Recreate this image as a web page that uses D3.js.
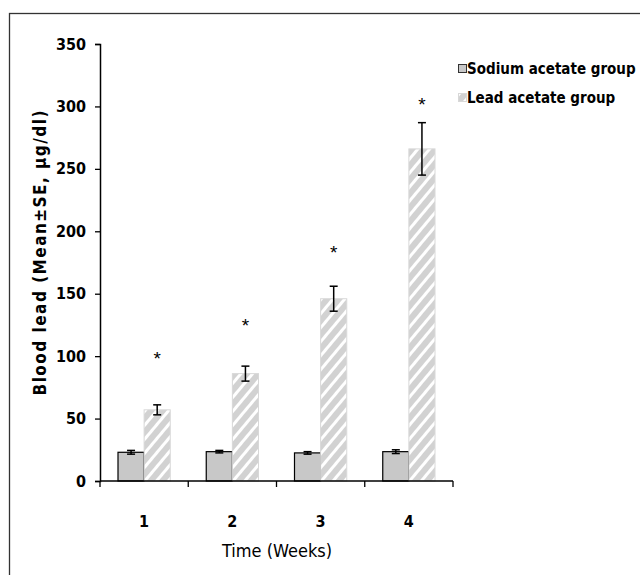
<!DOCTYPE html>
<html>
<head>
<meta charset="utf-8">
<script src="https://cdn.jsdelivr.net/npm/d3@7"></script>
<style>
  body { margin: 0; background: #fff; }
  svg text { font-family: "DejaVu Sans Condensed", "Liberation Sans", Arial, sans-serif; font-stretch: condensed; font-weight: bold; fill: #000; }
</style>
</head>
<body>
<div id="chart"></div>
<script>
// chart values
const weeks = ["1", "2", "3", "4"];
const groups = ["Sodium acetate group", "Lead acetate group"];
const sodiumMean = [23, 23.5, 22.5, 23.5];
const sodiumSE = [1.5, 1, 1, 1.5];
const leadMean = [57, 86, 146, 266];
const leadSE = [4, 6, 10, 21];
const starLevel = [104, 131, 189, 308];
const yTicks = [0, 50, 100, 150, 200, 250, 300, 350];

const width = 640;
const height = 575;

const svg = d3.select("#chart")
    .append("svg")
    .attr("width", width)
    .attr("height", height);

// hatch for the lead bars
const defs = svg.append("defs");
const hatch = defs.append("pattern")
    .attr("id", "hatch")
    .attr("patternUnits", "userSpaceOnUse")
    .attr("width", 9)
    .attr("height", 9)
    .attr("patternTransform", "rotate(40)");
hatch.append("rect")
    .attr("width", 9).attr("height", 9)
    .attr("fill", "#d2d2d2");
hatch.append("rect")
    .attr("x", 0).attr("y", 0)
    .attr("width", 3).attr("height", 9)
    .attr("fill", "#ffffff");

// outer frame (runs off the right and bottom edges)
svg.append("rect")
    .attr("x", 9.5).attr("y", 13.5)
    .attr("width", 700).attr("height", 700)
    .attr("fill", "none")
    .attr("stroke", "#333")
    .attr("stroke-width", 1.3);

const x0 = d3.scaleBand()
    .domain(weeks)
    .range([100, 453]);

const x1 = d3.scaleBand()
    .domain(groups)
    .range([18, x0.bandwidth() - 18]);

const y = d3.scaleLinear()
    .domain([0, 350])
    .range([481, 44]);

// y axis
const yAxis = svg.append("g")
    .attr("transform", "translate(100,0)")
    .call(d3.axisLeft(y).tickValues(yTicks).tickSize(5).tickPadding(9));
yAxis.select(".domain").attr("stroke-width", 1.5);
yAxis.selectAll(".tick line").attr("stroke-width", 1.3);
yAxis.selectAll("text").style("font-size", "16px");

// bars
const grp = svg.append("g").selectAll("g")
    .data(weeks)
    .join("g")
    .attr("transform", d => `translate(${x0(d)},0)`);

grp.append("rect")
    .attr("x", x1(groups[0]))
    .attr("y", (d, i) => y(sodiumMean[i]))
    .attr("width", x1.bandwidth())
    .attr("height", (d, i) => y(0) - y(sodiumMean[i]))
    .attr("fill", "#c8c8c8")
    .attr("stroke", "#000")
    .attr("stroke-width", 1.2);

grp.append("rect")
    .attr("x", x1(groups[1]))
    .attr("y", (d, i) => y(leadMean[i]))
    .attr("width", x1.bandwidth())
    .attr("height", (d, i) => y(0) - y(leadMean[i]))
    .attr("fill", "url(#hatch)")
    .attr("stroke", "#d8d8d8")
    .attr("stroke-width", 1);

// error bars
function errBars(cls, key, mean, se) {
    const cx = x1(key) + x1.bandwidth() / 2;
    const e = grp.append("g").attr("class", cls);
    e.append("line")
        .attr("x1", cx).attr("x2", cx)
        .attr("y1", (d, i) => y(mean[i] + se[i]))
        .attr("y2", (d, i) => y(mean[i] - se[i]))
        .attr("stroke", "#000").attr("stroke-width", 1.5);
    [1, -1].forEach(s => {
        e.append("line")
            .attr("x1", cx - 4).attr("x2", cx + 4)
            .attr("y1", (d, i) => y(mean[i] + s * se[i]))
            .attr("y2", (d, i) => y(mean[i] + s * se[i]))
            .attr("stroke", "#000").attr("stroke-width", 1.5);
    });
}
errBars("err-na", groups[0], sodiumMean, sodiumSE);
errBars("err-pb", groups[1], leadMean, leadSE);

// significance stars
grp.append("text")
    .attr("x", x1(groups[1]) + x1.bandwidth() / 2)
    .attr("y", (d, i) => y(starLevel[i]))
    .attr("text-anchor", "middle")
    .attr("dy", "0.75em")
    .style("font-family", "'Liberation Sans', Arial, sans-serif")
    .style("font-size", "19px")
    .style("font-weight", "normal")
    .text("*");

// x axis
const xAxis = svg.append("g")
    .attr("transform", "translate(0,481)");
xAxis.append("line")
    .attr("x1", 100).attr("x2", 453)
    .attr("stroke", "#000").attr("stroke-width", 1.5);
xAxis.selectAll(".xt")
    .data(weeks.concat(["end"]))
    .join("line")
    .attr("class", "xt")
    .attr("x1", (d, i) => i < weeks.length ? x0(d) : x0.range()[1])
    .attr("x2", (d, i) => i < weeks.length ? x0(d) : x0.range()[1])
    .attr("y1", 0).attr("y2", 6)
    .attr("stroke", "#000").attr("stroke-width", 1.3);
xAxis.selectAll(".xl")
    .data(weeks)
    .join("text")
    .attr("class", "xl")
    .attr("x", d => x0(d) + x0.bandwidth() / 2)
    .attr("y", 46)
    .attr("text-anchor", "middle")
    .style("font-size", "16px")
    .text(d => d);

// axis titles
svg.append("text")
    .attr("x", 277)
    .attr("y", 557)
    .attr("text-anchor", "middle")
    .style("font-size", "18px")
    .style("font-weight", "normal")
    .text("Time (Weeks)");

svg.append("text")
    .attr("transform", "translate(46,253) rotate(-90)")
    .attr("text-anchor", "middle")
    .attr("textLength", 285)
    .attr("lengthAdjust", "spacing")
    .style("font-size", "17px")
    .text("Blood  lead (Mean±SE, µg/dl)");

// legend
const legend = svg.append("g")
    .attr("transform", "translate(458,64)");
const li = legend.selectAll("g")
    .data(groups)
    .join("g")
    .attr("transform", (d, i) => `translate(0,${i * 29})`);
li.append("rect")
    .attr("x", 0.5).attr("y", 0.5)
    .attr("width", 8).attr("height", 8)
    .attr("fill", (d, i) => i === 0 ? "#c8c8c8" : "url(#hatch)")
    .attr("stroke", (d, i) => i === 0 ? "#333" : "#d8d8d8");
li.append("text")
    .attr("x", 9)
    .attr("y", 4.5)
    .attr("dy", "0.36em")
    .style("font-size", "15px")
    .text(d => d);
</script>
</body>
</html>
